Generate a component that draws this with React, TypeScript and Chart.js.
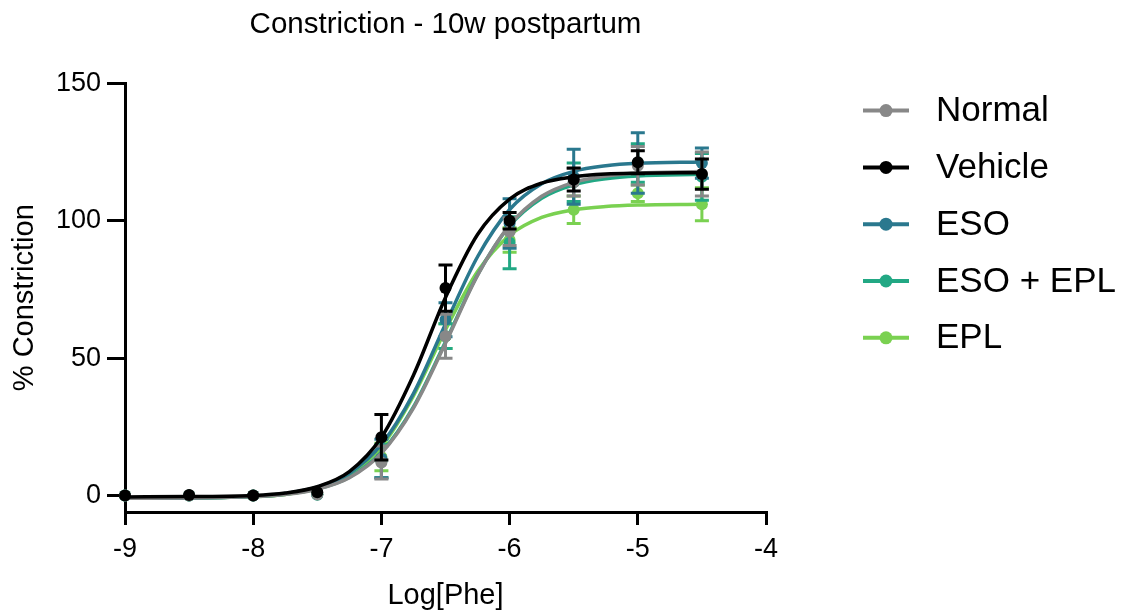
import React, { useEffect, useRef } from "react";
import { Chart, registerables } from "chart.js";

Chart.register(...registerables);

const FONT = "'Liberation Sans', Arial, Helvetica, sans-serif";

const chartTitle = "Constriction - 10w postpartum";
const xAxisTitle = "Log[Phe]";
const yAxisTitle = "% Constriction";

const seriesNames = ["Normal", "Vehicle", "ESO", "ESO + EPL", "EPL"];
const seriesColors = ["#888888", "#000000", "#2a788e", "#22a884", "#7ad151"];

const xTicks = [-9, -8, -7, -6, -5, -4];
const xTickLabels = ["-9", "-8", "-7", "-6", "-5", "-4"];
const yTicks = [0, 50, 100, 150];
const yTickLabels = ["0", "50", "100", "150"];

// measured points (log dose, mean, SEM)
const doseLog = [-9, -8.5, -8, -7.5, -7, -6.5, -6, -5.5, -5, -4.5];

const normalMean = [0, 0, 0, 0.4, 12, 58, 96, 114, 120, 117];
const normalSem = [0.3, 0.3, 0.4, 1.5, 6, 8, 5, 5, 7, 8];

const vehicleMean = [0, 0.2, 0, 1.2, 21.2, 75.5, 100, 115, 121.3, 117];
const vehicleSem = [0.3, 0.3, 0.3, 0.8, 8.3, 8.4, 3, 4.2, 4.2, 5.5];

const esoMean = [0, 0, 0, 0.5, 13.5, 64, 99, 116, 121, 121];
const esoSem = [0.3, 0.3, 0.3, 1, 7, 6.2, 9, 10, 11, 5.5];

const esoEplMean = [0, 0, 0, 0.3, 12.5, 58, 92, 114, 121, 116];
const esoEplSem = [0.3, 0.3, 0.3, 1, 6, 4.5, 9.5, 7, 7, 8.5];

const eplMean = [0, 0, 0, 0.5, 14, 58, 93, 104, 110, 106];
const eplSem = [0.3, 0.3, 0.3, 1, 5, 4.5, 4.5, 5, 3, 6];

// fitted curves, values
const fitLog = [-9, -8.5, -8, -7.75, -7.5, -7.25, -7, -6.75, -6.5, -6.25, -6, -5.75, -5.5, -5.25, -5, -4.5];
const normalFit = [-1.0, -0.9, -0.4, 0.4, 2.3, 6.5, 15.4, 31.8, 55.4, 80.1, 98.4, 108.9, 114.0, 116.3, 117.3, 117.9];
const vehicleFit = [-0.5, -0.4, 0.0, 0.9, 3.2, 8.7, 21.2, 43.8, 72.1, 95.0, 107.9, 113.7, 116.0, 117.0, 117.3, 117.5];
const esoFit = [-1.0, -0.9, -0.3, 0.7, 3.0, 8.1, 18.6, 37.1, 62.4, 86.9, 104.1, 113.5, 118.0, 120.0, 120.9, 121.4];
const esoEplFit = [-1.0, -0.9, -0.4, 0.5, 2.4, 6.7, 15.8, 32.3, 56.0, 80.3, 98.1, 108.2, 113.1, 115.3, 116.3, 116.9];
const eplFit = [-1.0, -0.9, -0.4, 0.4, 2.5, 7.4, 17.8, 36.3, 60.3, 81.5, 94.7, 101.2, 104.0, 105.2, 105.7, 106.0];

const allMeans = [normalMean, vehicleMean, esoMean, esoEplMean, eplMean];
const allSems = [normalSem, vehicleSem, esoSem, esoEplSem, eplSem];
const allFits = [normalFit, vehicleFit, esoFit, esoEplFit, eplFit];
// drawing priority (lower = on top)
const seriesOrder = [2, 0, 4, 6, 8];

const POINT_R = 6;

const errorBarPlugin = {
  id: "errorBars",
  beforeDatasetDraw(chart: any, args: any) {
    const ds = chart.data.datasets[args.index] as any;
    if (!ds.errorBars) return;
    const { ctx } = chart;
    const xs = chart.scales.x;
    const ys = chart.scales.y;
    ctx.save();
    ctx.strokeStyle = ds.pointBackgroundColor;
    ctx.lineWidth = 3;
    ctx.lineCap = "butt";
    ds.data.forEach((p: any, i: number) => {
      const e = ds.errorBars[i];
      const px = xs.getPixelForValue(p.x);
      const top = ys.getPixelForValue(p.y + e);
      const bot = ys.getPixelForValue(p.y - e);
      if ((bot - top) / 2 < POINT_R + 1) return;
      ctx.beginPath();
      ctx.moveTo(px, top);
      ctx.lineTo(px, bot);
      ctx.moveTo(px - 7, top);
      ctx.lineTo(px + 7, top);
      ctx.moveTo(px - 7, bot);
      ctx.lineTo(px + 7, bot);
      ctx.stroke();
    });
    ctx.restore();
  },
};

const legendPlugin = {
  id: "sideLegend",
  afterDraw(chart: any) {
    const ctx = chart.ctx;
    const top = 110.6;
    const step = 56.8;
    ctx.save();
    seriesNames.forEach((name, i) => {
      const y = top + i * step;
      ctx.strokeStyle = seriesColors[i];
      ctx.lineWidth = 4;
      ctx.beginPath();
      ctx.moveTo(863, y);
      ctx.lineTo(909, y);
      ctx.stroke();
      ctx.fillStyle = seriesColors[i];
      ctx.beginPath();
      ctx.arc(886, y, 6.5, 0, Math.PI * 2);
      ctx.fill();
      ctx.fillStyle = "#000";
      ctx.font = `35px ${FONT}`;
      ctx.textBaseline = "middle";
      ctx.textAlign = "left";
      ctx.fillText(name, 936, y + 1);
    });
    ctx.restore();
  },
};

export default function App() {
  const canvasRef = useRef<HTMLCanvasElement | null>(null);

  useEffect(() => {
    document.body.style.margin = "0";
    const canvas = canvasRef.current;
    if (!canvas) return;

    const datasets: any[] = [];
    seriesNames.forEach((name, s) => {
      datasets.push({
        label: name + " fit",
        data: fitLog.map((x, i) => ({ x, y: allFits[s][i] })),
        borderColor: seriesColors[s],
        backgroundColor: seriesColors[s],
        borderWidth: 3.5,
        pointRadius: 0,
        pointHoverRadius: 0,
        cubicInterpolationMode: "monotone",
        fill: false,
        order: seriesOrder[s] + 1,
      });
      datasets.push({
        label: name,
        data: doseLog.map((x, i) => ({ x, y: allMeans[s][i] })),
        errorBars: allSems[s],
        showLine: false,
        borderColor: seriesColors[s],
        pointBackgroundColor: seriesColors[s],
        pointBorderColor: seriesColors[s],
        pointBorderWidth: 0,
        pointRadius: POINT_R,
        pointHoverRadius: POINT_R,
        clip: false,
        order: seriesOrder[s],
      });
    });

    const chart = new Chart(canvas, {
      type: "line",
      data: { datasets },
      plugins: [errorBarPlugin, legendPlugin],
      options: {
        responsive: false,
        animation: false,
        devicePixelRatio: 1,
        layout: { padding: { left: 0, right: 370, top: 0, bottom: 0 } },
        plugins: {
          legend: { display: false },
          tooltip: { enabled: false },
          title: {
            display: true,
            text: chartTitle,
            color: "#000",
            fullSize: false,
            font: { family: FONT, size: 29.5, weight: "normal" },
            padding: { top: 7, bottom: 41 },
          },
        },
        scales: {
          x: {
            type: "linear",
            min: -9,
            max: -4,
            afterBuildTicks: (s: any) => {
              s.ticks = xTicks.map((v) => ({ value: v }));
            },
            afterFit: (s: any) => {
              s.height = 101;
            },
            grid: {
              display: true,
              drawOnChartArea: false,
              drawTicks: true,
              tickLength: 13,
              lineWidth: 3,
              tickWidth: 3,
              tickColor: "#000",
              color: "#000",
            },
            border: { display: true, width: 3, color: "#000" },
            ticks: {
              color: "#000",
              font: { family: FONT, size: 27 },
              padding: 8,
              maxRotation: 0,
              autoSkip: false,
              callback: (v: any) => xTickLabels[xTicks.indexOf(Number(v))],
            },
            title: {
              display: true,
              text: xAxisTitle,
              color: "#000",
              font: { family: FONT, size: 29 },
              padding: { top: 0, bottom: 0 },
            },
          },
          y: {
            type: "linear",
            min: -6,
            max: 150,
            afterBuildTicks: (s: any) => {
              s.ticks = yTicks.map((v) => ({ value: v }));
            },
            afterFit: (s: any) => {
              s.width = 125;
            },
            grid: {
              display: true,
              drawOnChartArea: false,
              drawTicks: true,
              tickLength: 18,
              lineWidth: 3,
              tickWidth: 3,
              tickColor: "#000",
              color: "#000",
            },
            border: { display: true, width: 3, color: "#000" },
            ticks: {
              color: "#000",
              font: { family: FONT, size: 27 },
              padding: 6,
              autoSkip: false,
              callback: (v: any) => yTickLabels[yTicks.indexOf(Number(v))],
            },
            title: {
              display: true,
              text: yAxisTitle,
              color: "#000",
              font: { family: FONT, size: 29 },
              padding: { top: 8, bottom: 0 },
            },
          },
        },
      } as any,
    });

    return () => {
      chart.destroy();
    };
  }, []);

  return (
    <div style={{ width: 1136, height: 613 }}>
      <canvas ref={canvasRef} width={1136} height={613} style={{ display: "block" }} />
    </div>
  );
}
